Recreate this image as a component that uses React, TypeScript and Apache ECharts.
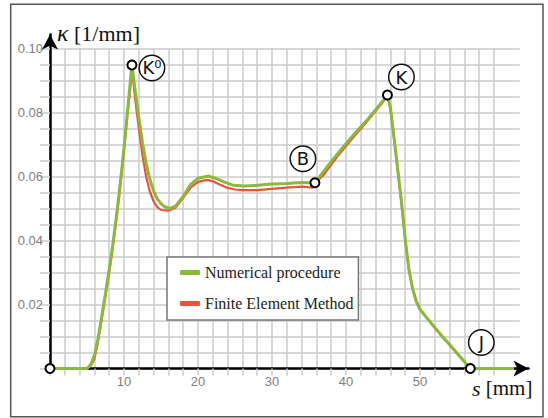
import React, { useEffect, useRef } from 'react';
import * as echarts from 'echarts';

// Numerical procedure (green)
const sNumerical = [0, 1, 2, 3, 4, 5, 5.5, 6, 6.5, 7, 7.5, 8, 8.5, 9, 9.5, 10, 10.5, 11.07, 11.5, 12, 12.5, 13, 13.5, 14, 14.5, 15, 15.5, 16.26, 17, 18, 19, 20, 21.45, 22.5, 23.5, 24.8, 26.2, 28, 30, 32, 34, 35.8, 37, 38, 39, 40, 41, 42, 43, 44, 45, 45.6, 46, 46.5, 47, 47.5, 48, 48.5, 49, 49.5, 50, 50.8, 52, 53, 54, 55, 56, 56.8, 58, 60, 62.7];
const kNumerical = [0, 0, 0, 0, 0, 0, 0.0012, 0.004, 0.0095, 0.0165, 0.0235, 0.031, 0.039, 0.048, 0.058, 0.069, 0.081, 0.0948, 0.087, 0.0785, 0.0705, 0.064, 0.059, 0.0555, 0.053, 0.0515, 0.0505, 0.05, 0.0508, 0.0538, 0.0575, 0.0594, 0.0601, 0.0593, 0.0583, 0.0572, 0.057, 0.0572, 0.0576, 0.0578, 0.0581, 0.058, 0.0616, 0.0646, 0.0675, 0.0702, 0.0729, 0.0755, 0.078, 0.0808, 0.0836, 0.0854, 0.0815, 0.072, 0.062, 0.052, 0.0405, 0.031, 0.025, 0.021, 0.0185, 0.0162, 0.0128, 0.0101, 0.0075, 0.0048, 0.0022, 0, 0, 0, 0];

// Finite Element Method (red)
const sFEM = [0, 5, 5.5, 6, 6.5, 7, 7.5, 8, 8.5, 9, 9.5, 10, 10.5, 11.1, 11.5, 12, 12.5, 13, 13.5, 14, 14.5, 15, 16, 17, 18, 19, 20, 21.2, 22, 23, 24, 25, 26, 28, 30, 32, 34, 35.5, 35.8, 37, 38, 39, 40, 41, 42, 43, 44, 45, 45.6, 46, 46.5, 47, 47.5, 48, 48.5, 49, 49.5, 50, 50.8, 52, 53, 54, 55, 56, 56.8];
const kFEM = [0, 0, 0.0008, 0.003, 0.0085, 0.0155, 0.0228, 0.03, 0.038, 0.047, 0.057, 0.068, 0.08, 0.0932, 0.0845, 0.075, 0.0665, 0.0598, 0.0552, 0.0522, 0.0504, 0.0495, 0.0493, 0.0503, 0.0533, 0.0565, 0.0583, 0.0589, 0.0585, 0.0574, 0.0564, 0.0559, 0.0557, 0.0557, 0.0561, 0.0565, 0.0568, 0.0565, 0.0578, 0.0605, 0.0637, 0.0667, 0.0695, 0.0722, 0.0749, 0.0776, 0.0804, 0.0832, 0.0852, 0.0812, 0.0716, 0.0616, 0.0516, 0.0402, 0.0308, 0.0248, 0.0209, 0.0184, 0.0161, 0.0127, 0.01, 0.0074, 0.0047, 0.0021, 0];

// Key points
const pointNames = ['', 'K⁰', 'B', 'K', 'J'];
const pointS = [0, 11.07, 35.8, 45.6, 56.8];
const pointK = [0, 0.0948, 0.058, 0.0854, 0];

const xTickLabels = [10, 20, 30, 40, 50];
const yTickLabels = [0.02, 0.04, 0.06, 0.08, 0.1];
const seriesNames = ['Numerical procedure', 'Finite Element Method'];

const labelOffsets: Record<string, number[]> = {
  'K⁰': [20, 3],
  B: [-12, -24],
  K: [14, -18],
  J: [11, -26],
};

export default function App() {
  const ref = useRef<HTMLDivElement>(null);
  useEffect(() => {
    const chart = echarts.init(ref.current!, null, { renderer: 'svg' });
    const GREEN = '#8cb83b';
    const RED = '#e8553a';
    const GRID = '#cbcbcb';
    const left = 50;
    const gridTop = 48.3;
    const gridH = 320.2;
    const pxPerMm = 7.4;
    const gridLine = { color: GRID, width: 1.5 };

    const option: any = {
      animation: false,
      grid: [
        { left, top: gridTop, width: 60 * pxPerMm, height: gridH },
        { left, top: gridTop, width: 63.5 * pxPerMm, height: gridH },
        { left, top: 34.5, right: 19.5, bottom: 49.5 },
      ],
      xAxis: [
        {
          gridIndex: 0, type: 'value', min: 0, max: 60, interval: 2,
          axisLine: { show: false },
          axisTick: { show: true, length: 7, lineStyle: gridLine },
          splitLine: { show: true, lineStyle: gridLine },
          axisLabel: {
            formatter: (v: number) => (xTickLabels.includes(v) ? String(v) : ''),
            color: '#808080', fontSize: 13, fontFamily: 'Liberation Sans', margin: 6,
          },
        },
        { gridIndex: 1, type: 'value', min: 0, max: 63.5, show: false },
        {
          gridIndex: 2, type: 'value', min: 0, max: 1,
          axisLine: { show: true, onZero: false, symbol: ['none', 'arrow'], symbolSize: [12, 15], lineStyle: { color: '#000', width: 2.5 } },
          axisTick: { show: false }, axisLabel: { show: false }, splitLine: { show: false },
        },
      ],
      yAxis: [
        { gridIndex: 0, type: 'value', min: 0, max: 0.1, show: false },
        {
          gridIndex: 1, type: 'value', min: 0, max: 0.1, interval: 0.005,
          axisLine: { show: false },
          axisTick: { show: true, length: 10, lineStyle: gridLine },
          splitLine: { show: true, lineStyle: gridLine },
          axisLabel: {
            formatter: (v: number) => (yTickLabels.some((t) => Math.abs(t - v) < 1e-9) ? v.toFixed(2) : ''),
            color: '#808080', fontSize: 13, fontFamily: 'Liberation Sans', margin: 7,
          },
        },
        {
          gridIndex: 2, type: 'value', min: 0, max: 1,
          axisLine: { show: true, onZero: false, symbol: ['none', 'arrow'], symbolSize: [12, 15], lineStyle: { color: '#000', width: 2.5 } },
          axisTick: { show: false }, axisLabel: { show: false }, splitLine: { show: false },
        },
      ],
      legend: {
        data: seriesNames,
        left: 167, top: 257, orient: 'vertical',
        padding: [6, 5, 7, 13], itemGap: 12,
        itemWidth: 20, itemHeight: 5, icon: 'roundRect',
        borderColor: '#777', borderWidth: 1.5, backgroundColor: '#fff',
        textStyle: { fontFamily: 'Liberation Serif', fontSize: 16, color: '#222', lineHeight: 19 },
      },
      series: [
        {
          name: seriesNames[1], type: 'line', xAxisIndex: 1, yAxisIndex: 1,
          data: sFEM.map((s, i) => [s, kFEM[i]]),
          showSymbol: false, lineStyle: { color: RED, width: 2.2 }, itemStyle: { color: RED }, z: 3,
        },
        {
          name: seriesNames[0], type: 'line', xAxisIndex: 1, yAxisIndex: 1,
          data: sNumerical.map((s, i) => [s, kNumerical[i]]),
          showSymbol: false, lineStyle: { color: GREEN, width: 3 }, itemStyle: { color: GREEN }, z: 4,
        },
        {
          type: 'scatter', xAxisIndex: 1, yAxisIndex: 1, z: 6,
          symbolSize: 9,
          itemStyle: { color: '#fff', borderColor: '#000', borderWidth: 2, opacity: 1 },
          label: {
            show: true, position: 'inside', formatter: (p: any) => p.name,
            fontSize: 18, fontFamily: 'DejaVu Sans', color: '#111',
            width: 24, height: 24, lineHeight: 24, align: 'center', verticalAlign: 'middle',
            borderColor: '#111', borderWidth: 1.5, borderRadius: 13, backgroundColor: '#fff',
          },
          data: pointS.map((s, i) => ({
            value: [s, pointK[i]],
            name: pointNames[i],
            label: pointNames[i] ? { show: true, offset: labelOffsets[pointNames[i]] } : { show: false },
          })),
        },
      ],
      graphic: [
        {
          type: 'rect', shape: { x: 10.7, y: 4.3, width: 532.3, height: 412.5 },
          style: { fill: 'none', stroke: '#555', lineWidth: 1.5 }, silent: true,
        },
        {
          type: 'text', x: 57, y: 33,
          style: {
            text: '{i|κ} [1/mm]', fontFamily: 'Liberation Serif', fontSize: 22, fill: '#111',
            verticalAlign: 'middle',
            rich: { i: { fontStyle: 'italic', fontFamily: 'Liberation Serif', fontSize: 24, fill: '#111' } },
          },
        },
        {
          type: 'text', x: 472, y: 388,
          style: {
            text: '{i|s} [mm]', fontFamily: 'Liberation Serif', fontSize: 21, fill: '#111',
            verticalAlign: 'middle',
            rich: { i: { fontStyle: 'italic', fontFamily: 'Liberation Serif', fontSize: 22, fill: '#111' } },
          },
        },
      ],
    };
    chart.setOption(option);
    return () => chart.dispose();
  }, []);
  return <div ref={ref} style={{ position: 'absolute', left: 0, top: 0, width: 548, height: 418 }} />;
}
